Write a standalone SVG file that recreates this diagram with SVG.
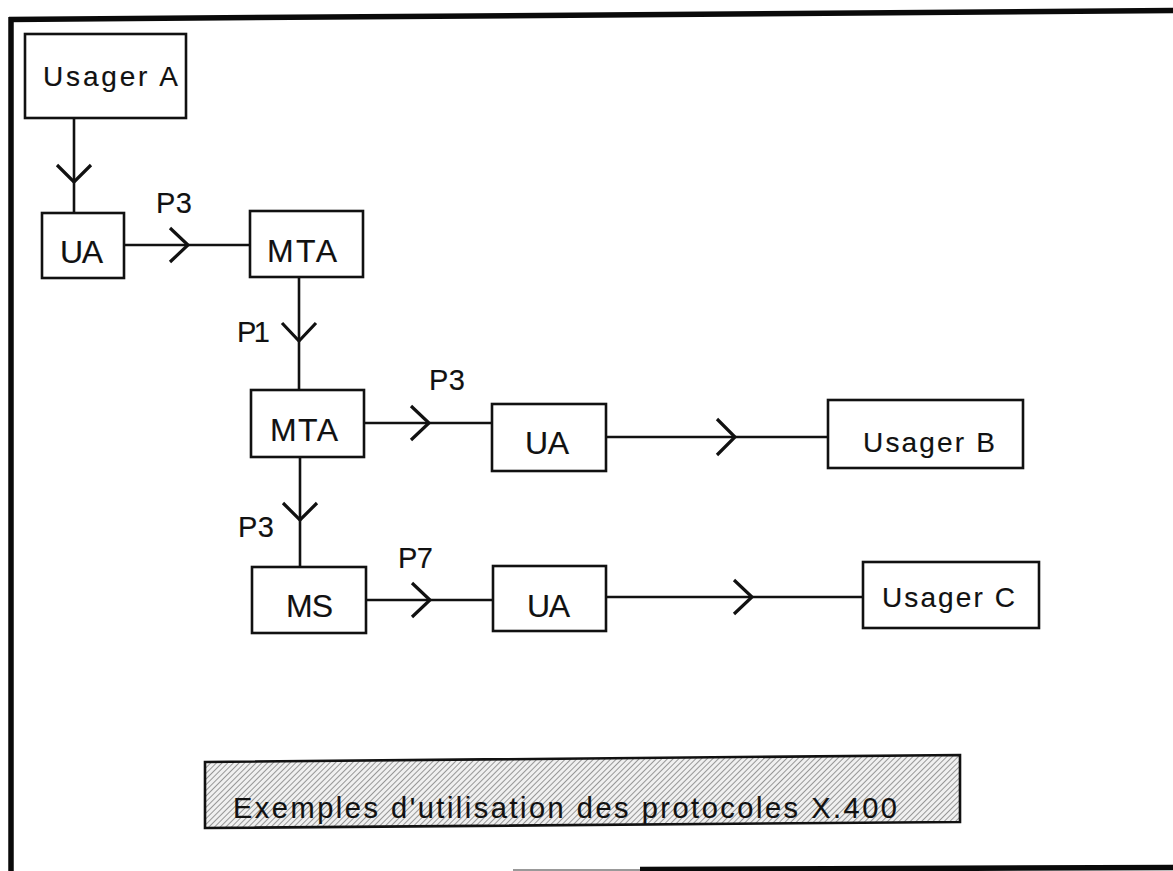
<svg xmlns="http://www.w3.org/2000/svg" width="1173" height="871" viewBox="0 0 1173 871">
<style>
.box{fill:#fff;stroke:#111;stroke-width:2.6}
.ln{fill:none;stroke:#111;stroke-width:2.6}
.chev{fill:none;stroke:#111;stroke-width:3.2;stroke-linejoin:miter}
.lbl{font-family:"Liberation Sans",Arial,sans-serif;fill:#111;stroke:#111;stroke-width:0.15}
.big{font-size:32px}
.usr{font-size:28px}
.p{font-size:29px}
.frame{fill:none;stroke:#0a0a0a;stroke-width:5.5}
</style>
<defs>
<pattern id="hatch" patternUnits="userSpaceOnUse" width="4" height="4" patternTransform="rotate(45)">
<rect width="4" height="4" fill="#f0f0f0"/>
<line x1="0" y1="0" x2="0" y2="4" stroke="#707070" stroke-width="1.4"/>
</pattern>
</defs>
<rect width="1173" height="871" fill="#fff"/>
<g id="frame">
<line class="frame" x1="11" y1="17" x2="11" y2="871"/>
<line class="frame" x1="9" y1="19.5" x2="1173" y2="10.5"/>
<line x1="513" y1="870" x2="640" y2="870" stroke="#999" stroke-width="2"/>
<line class="frame" x1="640" y1="869.5" x2="1173" y2="867.5"/>
</g>
<g id="connectors">
<line class="ln" x1="74" y1="118" x2="74" y2="213"/>
<polyline class="chev" points="57,165 74,182 91,165"/>
<line class="ln" x1="124" y1="245" x2="250" y2="245"/>
<polyline class="chev" points="170,228 188,245 170,262"/>
<line class="ln" x1="299" y1="277" x2="299" y2="390"/>
<polyline class="chev" points="282,323 299,341 316,323"/>
<line class="ln" x1="364" y1="423" x2="492" y2="423"/>
<polyline class="chev" points="411,406 429,423 411,440"/>
<line class="ln" x1="606" y1="437" x2="828" y2="437"/>
<polyline class="chev" points="717,419 735,437 717,455"/>
<line class="ln" x1="300" y1="457" x2="300" y2="567"/>
<polyline class="chev" points="283,503 300,520 317,503"/>
<line class="ln" x1="366" y1="600" x2="493" y2="600"/>
<polyline class="chev" points="412,583 430,600 412,617"/>
<line class="ln" x1="606" y1="597" x2="863" y2="597"/>
<polyline class="chev" points="734,580 752,597 734,614"/>
<text class="lbl p" x="156" y="213" textLength="36" lengthAdjust="spacing">P3</text>
<text class="lbl p" x="237" y="342" textLength="33" lengthAdjust="spacing">P1</text>
<text class="lbl p" x="429" y="390" textLength="36" lengthAdjust="spacing">P3</text>
<text class="lbl p" x="238" y="537" textLength="36" lengthAdjust="spacing">P3</text>
<text class="lbl p" x="398" y="568" textLength="35" lengthAdjust="spacing">P7</text>
</g>
<g id="usagerA">
<rect class="box" x="25" y="34" width="161" height="84"/>
<text class="lbl usr" x="43" y="86" textLength="135" lengthAdjust="spacing">Usager A</text>
</g>
<g id="ua1">
<rect class="box" x="42" y="213" width="82" height="65"/>
<text class="lbl big" x="60" y="263" textLength="43" lengthAdjust="spacing">UA</text>
</g>
<g id="mta1">
<rect class="box" x="250" y="211" width="113" height="66"/>
<text class="lbl big" x="267" y="262" textLength="70" lengthAdjust="spacing">MTA</text>
</g>
<g id="mta2">
<rect class="box" x="251" y="390" width="113" height="67"/>
<text class="lbl big" x="270" y="441" textLength="68" lengthAdjust="spacing">MTA</text>
</g>
<g id="ua2">
<rect class="box" x="492" y="404" width="114" height="67"/>
<text class="lbl big" x="525" y="454" textLength="44" lengthAdjust="spacing">UA</text>
</g>
<g id="usagerB">
<rect class="box" x="828" y="400" width="195" height="68"/>
<text class="lbl usr" x="863" y="452" textLength="132" lengthAdjust="spacing">Usager B</text>
</g>
<g id="ms">
<rect class="box" x="252" y="567" width="114" height="66"/>
<text class="lbl big" x="286" y="617" textLength="47" lengthAdjust="spacing">MS</text>
</g>
<g id="ua3">
<rect class="box" x="493" y="566" width="113" height="65"/>
<text class="lbl big" x="527" y="617" textLength="43" lengthAdjust="spacing">UA</text>
</g>
<g id="usagerC">
<rect class="box" x="863" y="562" width="176" height="66"/>
<text class="lbl usr" x="882" y="607" textLength="133" lengthAdjust="spacing">Usager C</text>
</g>
<g id="caption">
<polygon points="205,762 960,755 960,822 205,828" fill="url(#hatch)" stroke="#111" stroke-width="2.6"/>
<text class="lbl" x="233" y="818" font-size="29" textLength="664" lengthAdjust="spacing">Exemples d'utilisation des protocoles X.400</text>
</g>
</svg>
